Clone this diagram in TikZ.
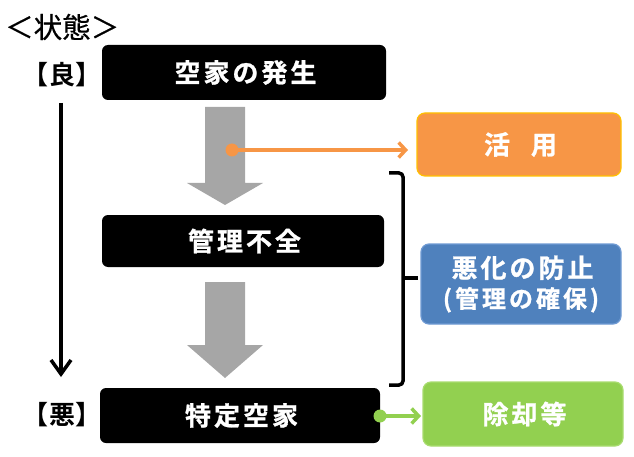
\documentclass[tikz,border=0pt]{standalone}
\usepackage{fontspec}
\newfontfamily\jp{Noto Sans CJK JP}[FakeBold=0.5]
\newfontfamily\jpb{Noto Sans CJK JP Bold}
\newfontfamily\jpls{Noto Sans CJK JP Bold}[LetterSpace=11.5,FakeBold=1]
\newfontfamily\jplt{Noto Sans CJK JP Bold}[LetterSpace=12.5,FakeBold=1]
\usetikzlibrary{arrows.meta}
\definecolor{orgF}{HTML}{F79646}
\definecolor{orgD}{HTML}{FFC000}
\definecolor{bluF}{HTML}{4F81BD}
\definecolor{bluD}{HTML}{6F9AD3}
\definecolor{grnF}{HTML}{92D050}
\definecolor{grnD}{HTML}{A9DC70}
\definecolor{gry}{HTML}{A6A6A6}
\begin{document}
\begin{tikzpicture}[x=1pt,y=-1pt,
  blk/.style={fill=black, rounded corners=6pt, text=white, inner sep=0pt,
    font=\jpls\fontsize{26}{30}\selectfont},
  colbox/.style={rounded corners=8pt, line width=1.2pt, text=white, inner sep=0pt, align=center,
    font=\jpls\fontsize{26}{32}\selectfont},
  lbl/.style={inner sep=0pt, font=\jp\fontsize{28.5}{32}\selectfont},
  lblb/.style={inner sep=0pt, font=\jpb\fontsize{26}{30}\selectfont},
  grayarrow/.style={fill=gry, draw=none},
  conn/.style={line width=3.5pt, -{Straight Barb[length=7pt,width=15pt]}}
]
\useasboundingbox (0,0) rectangle (634,457);

% labels
\node[lbl, anchor=west] (state) at (5,27) {＜状態＞};
\node[lblb] (ryo) at (62,75) {【良】};
\node[lblb] (aku) at (62,415) {【悪】};

% main boxes
\node[blk, minimum width=284pt, minimum height=55pt] (b1) at (244,72.5) {\kern3pt 空家の発生};
\node[blk, minimum width=282pt, minimum height=52pt] (b2) at (243,241) {\kern3pt 管理不全};
\node[blk, minimum width=280pt, minimum height=55pt] (b3) at (240,415.5) {\kern3pt 特定空家};

% right boxes
\node[colbox, fill=orgF, draw=orgD, minimum width=204pt, minimum height=63pt] (use) at (519,144.5) {\kern3pt 活\hspace{21pt}用};
\node[colbox, fill=bluF, draw=bluD, minimum width=200pt, minimum height=80pt] (prev) at (521,284)
  {\kern3pt 悪化の防止\\[-2pt]{\jplt\fontsize{24}{28}\selectfont (管理の確保)}};
\node[colbox, fill=grnF, draw=grnD, minimum width=200pt, minimum height=64pt] (rem) at (523,414) {\kern3pt 除却等};

% gray block arrows
\path[grayarrow] (205,107) -- (245,107) -- (245,183) -- (263,183) -- (225,205) -- (187,183) -- (205,183) -- cycle;
\path[grayarrow] (205,282) -- (245,282) -- (245,345) -- (263,345) -- (225,378) -- (187,345) -- (205,345) -- cycle;

% left state arrow
\coordinate (s1) at (61,103);
\coordinate (s2) at (61,377);
\draw[line width=3.5pt, -{Straight Barb[length=14pt,width=20pt]}] (s1) -- (s2);

% orange connector
\coordinate (od) at (232,150);
\coordinate (oe) at (408,150);
\fill[orgF] (od) circle (6.5pt);
\draw[conn, draw=orgF] (od) -- (oe);

% green connector
\coordinate (ge) at (421,416);
\fill[grnF] (380,416) circle (6.5pt);
\draw[conn, draw=grnF] (380,416) -- (ge);

% bracket
\draw[line width=3.5pt, rounded corners=4pt] (389,173) -- (403,173) -- (403,385) -- (389,385);
\draw[line width=3.5pt] (403,278) -- (418,278);
\end{tikzpicture}
\end{document}
